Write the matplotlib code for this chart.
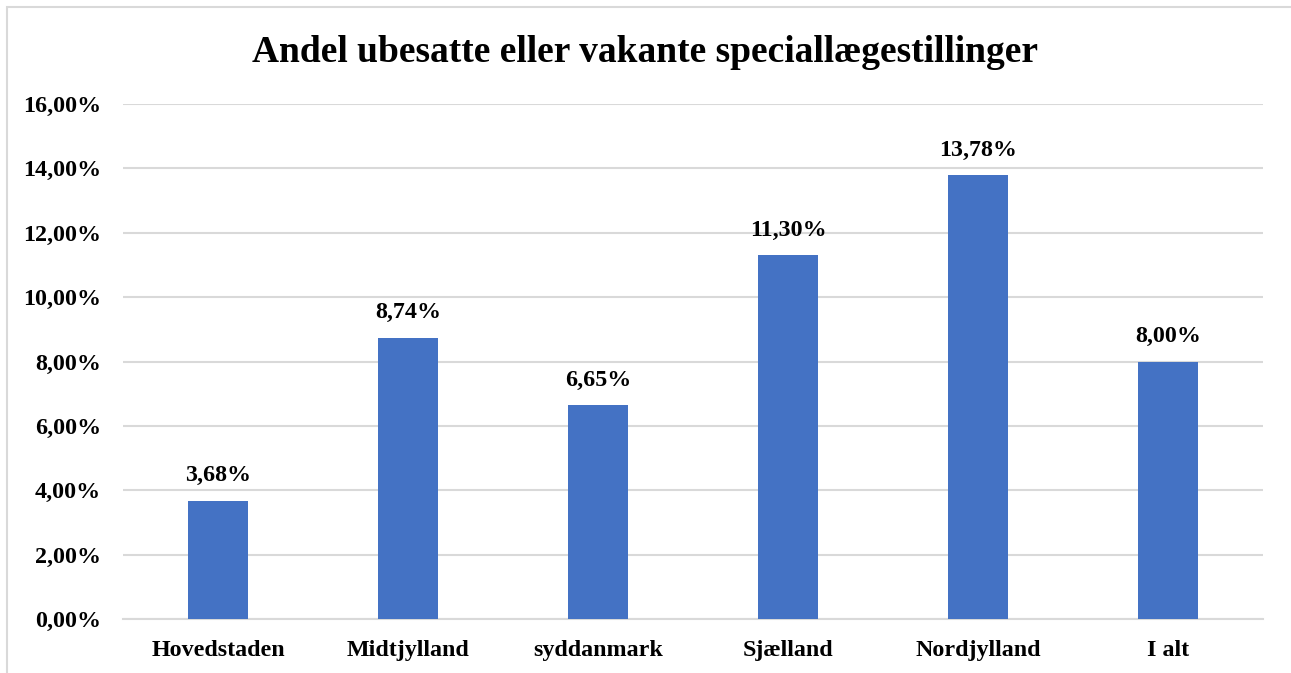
import matplotlib.pyplot as plt
from matplotlib.patches import Rectangle
from matplotlib.ticker import FuncFormatter

categories = ["Hovedstaden", "Midtjylland", "syddanmark", "Sjælland", "Nordjylland", "I alt"]
values = [3.68, 8.74, 6.65, 11.30, 13.78, 8.00]
title = "Andel ubesatte eller vakante speciallægestillinger"

plt.rcParams["font.family"] = ["Liberation Serif", "DejaVu Serif"]
plt.rcParams["font.weight"] = "bold"

fig = plt.figure(figsize=(12.91, 6.73), dpi=100)
ax = fig.add_axes([123 / 1291, 54 / 673, 1140 / 1291, 515 / 673])

# chart frame (right and bottom edges fall outside the picture)
fig.patches.append(Rectangle((7 / 1291, -0.05), 1.05, 1.05 - 7 / 673,
                             transform=fig.transFigure, fill=False,
                             edgecolor="#d9d9d9", linewidth=1.5))

x = list(range(len(categories)))
bars = ax.bar(x, values, width=0.316, color="#4472C4", zorder=3)

for rect, v in zip(bars, values):
    ax.text(rect.get_x() + rect.get_width() / 2, v + 0.45,
            f"{v:.2f}%".replace(".", ","), ha="center", va="bottom",
            fontsize=17.3, fontweight="bold")

ax.set_xlim(-0.5, len(categories) - 0.5)
ax.set_ylim(0, 16)
ax.set_yticks(range(0, 17, 2))
ax.yaxis.set_major_formatter(FuncFormatter(lambda v, _: f"{v:.2f}%".replace(".", ",")))
ax.grid(axis="y", color="#d9d9d9", linewidth=1.5, zorder=0)
ax.set_xticks(x)
ax.set_xticklabels(categories)
ax.tick_params(axis="both", length=0, labelsize=17.3)
ax.tick_params(axis="y", pad=16)
ax.tick_params(axis="x", pad=15)
for lbl in ax.get_xticklabels() + ax.get_yticklabels():
    lbl.set_fontweight("bold")
for side in ["top", "right", "left"]:
    ax.spines[side].set_visible(False)
ax.spines["bottom"].set_color("#d9d9d9")
ax.spines["bottom"].set_linewidth(1.5)

fig.text(0.5, 1 - 52 / 673, title, ha="center", va="center",
         fontsize=27, fontweight="bold")

fig.savefig("out.png", dpi=100)
